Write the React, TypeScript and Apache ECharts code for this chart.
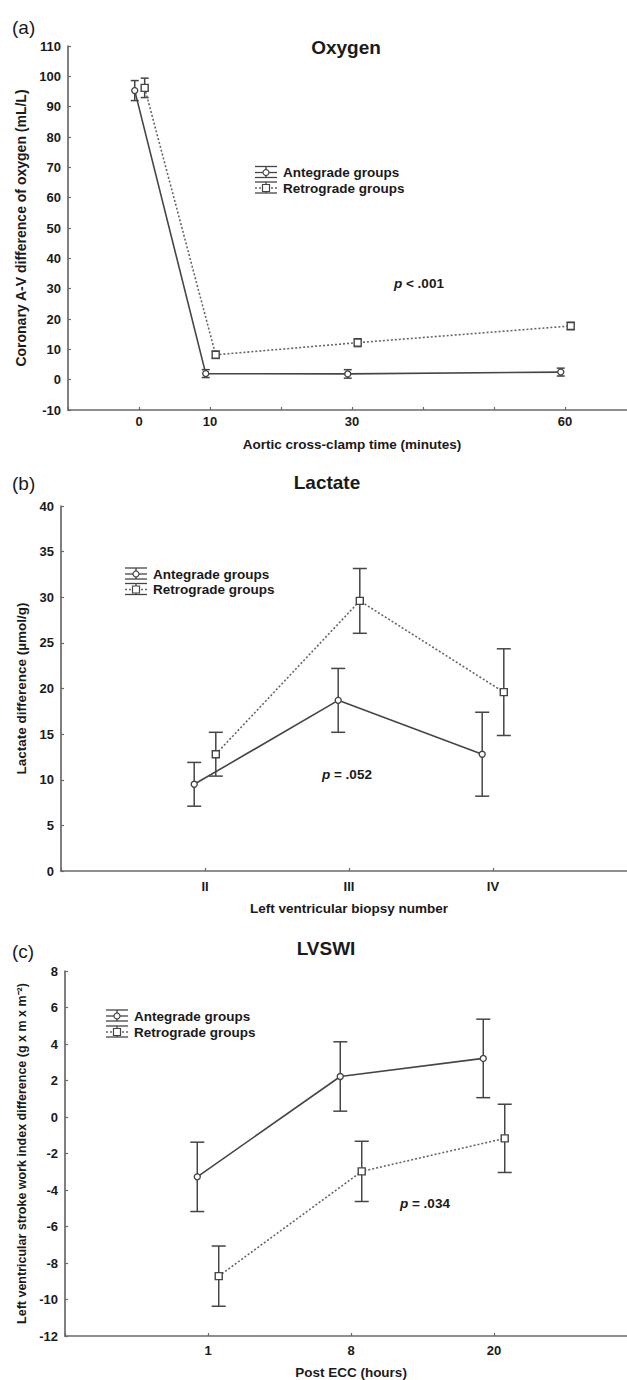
import React, { useEffect, useRef } from "react";
import * as echarts from "echarts";

// ---------- data ----------
const oxygenTimes = [0, 10, 30, 60];
const oxygenTickLabels = ["0", "10", "30", "60"];
const oxygenAntegrade = [95.3, 2.0, 1.9, 2.5];
const oxygenAntegradeErr = [3.3, 1.3, 1.4, 1.3];
const oxygenRetrograde = [96.2, 8.2, 12.2, 17.7];
const oxygenRetrogradeErr = [3.2, 1.2, 1.3, 1.2];

const lactateCategories = ["II", "III", "IV"];
const lactateAntegrade = [9.5, 18.7, 12.8];
const lactateAntegradeErr = [2.4, 3.5, 4.6];
const lactateRetrograde = [12.8, 29.6, 19.6];
const lactateRetrogradeErr = [2.4, 3.55, 4.75];

const lvswiCategories = ["1", "8", "20"];
const lvswiAntegrade = [-3.28, 2.22, 3.21];
const lvswiAntegradeErr = [1.9, 1.9, 2.15];
const lvswiRetrograde = [-8.72, -2.98, -1.17];
const lvswiRetrogradeErr = [1.65, 1.65, 1.87];

const seriesNames = ["Antegrade groups", "Retrograde groups"];

// ---------- styles ----------
const FONT = "'Liberation Sans', Arial, Helvetica, sans-serif";
const AXIS_COLOR = "#6a6a6a";
const LINE_COLOR = "#454545";
const DOT_COLOR = "#666666";
const TEXT_COLOR = "#1a1a1a";

const OXY_OFFSETS = [-0.6, 0.8];
const CAT_OFFSETS = [-0.075, 0.075];

function pts(xs: number[], ys: number[], errs: number[], off: number) {
  return xs.map((x, i) => [x + off, ys[i], errs[i]]);
}

function errorSeries(idx: number, data: number[][], cap: number, color: string) {
  return {
    type: "custom",
    xAxisIndex: idx,
    yAxisIndex: idx,
    z: 2,
    silent: true,
    encode: { x: 0, y: 1 },
    data,
    renderItem: (params: any, api: any) => {
      const x = api.value(0);
      const y = api.value(1);
      const e = api.value(2);
      const top = api.coord([x, y + e]);
      const bot = api.coord([x, y - e]);
      const st = { stroke: color, lineWidth: 1.5 };
      return {
        type: "group",
        children: [
          { type: "line", shape: { x1: top[0], y1: top[1], x2: bot[0], y2: bot[1] }, style: st },
          { type: "line", shape: { x1: top[0] - cap, y1: top[1], x2: top[0] + cap, y2: top[1] }, style: st },
          { type: "line", shape: { x1: bot[0] - cap, y1: bot[1], x2: bot[0] + cap, y2: bot[1] }, style: st },
        ],
      };
    },
  };
}

function meanSeries(idx: number, name: string, data: number[][], retro: boolean, size: number) {
  return {
    type: "line",
    name,
    xAxisIndex: idx,
    yAxisIndex: idx,
    z: 3,
    data: data.map((d) => [d[0], d[1]]),
    symbol: retro ? "rect" : "circle",
    symbolSize: size,
    showSymbol: true,
    itemStyle: { color: "#ffffff", borderColor: LINE_COLOR, borderWidth: 1.4 },
    lineStyle: retro
      ? { color: DOT_COLOR, width: 1.6, type: [2, 2] }
      : { color: LINE_COLOR, width: 1.6, type: "solid" },
  };
}

function legendGraphic(x0: number, x1: number, y0: number, gap: number, textX: number) {
  const els: any[] = [];
  const cx = (x0 + x1) / 2;
  [0, 1].forEach((k) => {
    const y = y0 + k * gap;
    const st = { stroke: LINE_COLOR, lineWidth: 1.3 };
    els.push({ type: "line", shape: { x1: x0, y1: y - 6, x2: x1, y2: y - 6 }, style: st });
    els.push({ type: "line", shape: { x1: x0, y1: y + 5, x2: x1, y2: y + 5 }, style: st });
    els.push({ type: "line", shape: { x1: cx, y1: y - 6, x2: cx, y2: y + 5 }, style: st });
    els.push({
      type: "line",
      shape: { x1: x0, y1: y, x2: x1, y2: y },
      style: k === 0 ? { stroke: LINE_COLOR, lineWidth: 1.3 } : { stroke: DOT_COLOR, lineWidth: 1.3, lineDash: [2, 2] },
    });
    if (k === 0) {
      els.push({ type: "circle", shape: { cx, cy: y, r: 3 }, style: { fill: "#fff", stroke: LINE_COLOR, lineWidth: 1.2 }, z: 10 });
    } else {
      els.push({ type: "rect", shape: { x: cx - 3.5, y: y - 3.5, width: 7, height: 7 }, style: { fill: "#fff", stroke: LINE_COLOR, lineWidth: 1.2 }, z: 10 });
    }
    els.push({
      type: "text",
      x: textX,
      y,
      style: { text: seriesNames[k], font: `bold 13.5px ${FONT}`, fill: TEXT_COLOR, align: "left", verticalAlign: "middle" },
      z: 10,
    });
  });
  return els;
}

function label(text: string, x: number, y: number, size: number, bold = true) {
  return {
    type: "text",
    x,
    y,
    style: {
      text,
      font: `${bold ? "bold " : ""}${size}px ${FONT}`,
      fill: TEXT_COLOR,
      align: bold ? "center" : "left",
      verticalAlign: "middle",
    },
  };
}

function pLabel(rest: string, x: number, y: number) {
  return {
    type: "text",
    x,
    y,
    style: {
      text: `{i|p}{n|${rest}}`,
      align: "left",
      verticalAlign: "middle",
      rich: {
        i: { font: `italic bold 13.5px ${FONT}`, fill: TEXT_COLOR },
        n: { font: `bold 13.5px ${FONT}`, fill: TEXT_COLOR },
      },
    },
  };
}

const axisLabelStyle = { color: TEXT_COLOR, fontFamily: FONT, fontWeight: "bold", fontSize: 13 };
const axisNameStyle = { color: TEXT_COLOR, fontFamily: FONT, fontWeight: "bold", fontSize: 13.5 };

function xAxisCfg(idx: number, min: number, max: number, interval: number, fmt: (v: number) => string, name: string, nameGap: number, margin: number) {
  return {
    type: "value",
    gridIndex: idx,
    min,
    max,
    interval,
    name,
    nameLocation: "middle",
    nameGap,
    nameTextStyle: axisNameStyle,
    axisLine: { show: true, onZero: false, lineStyle: { color: AXIS_COLOR, width: 1.7 } },
    axisTick: { show: true, inside: true, length: 3, lineStyle: { color: AXIS_COLOR, width: 1.2 } },
    axisLabel: { ...axisLabelStyle, margin, formatter: fmt, showMinLabel: true, showMaxLabel: true, hideOverlap: false },
    splitLine: { show: false },
  };
}

function yAxisCfg(idx: number, min: number, max: number, interval: number, name: string, nameGap: number, nameSize: number) {
  return {
    type: "value",
    gridIndex: idx,
    min,
    max,
    interval,
    name,
    nameLocation: "middle",
    nameGap,
    nameTextStyle: { ...axisNameStyle, fontSize: nameSize },
    axisLine: { show: true, onZero: false, lineStyle: { color: AXIS_COLOR, width: 1.7 } },
    axisTick: { show: true, inside: true, length: 3, lineStyle: { color: AXIS_COLOR, width: 1.2 } },
    axisLabel: { ...axisLabelStyle, margin: 7 },
    splitLine: { show: false },
  };
}

export default function App() {
  const ref = useRef<HTMLDivElement>(null);

  useEffect(() => {
    if (!ref.current) return;
    const chart = echarts.init(ref.current, undefined, { renderer: "svg" });

    const catPos = [1, 2, 3];
    const oxA = pts(oxygenTimes, oxygenAntegrade, oxygenAntegradeErr, OXY_OFFSETS[0]);
    const oxR = pts(oxygenTimes, oxygenRetrograde, oxygenRetrogradeErr, OXY_OFFSETS[1]);
    const laA = pts(catPos, lactateAntegrade, lactateAntegradeErr, CAT_OFFSETS[0]);
    const laR = pts(catPos, lactateRetrograde, lactateRetrogradeErr, CAT_OFFSETS[1]);
    const lvA = pts(catPos, lvswiAntegrade, lvswiAntegradeErr, CAT_OFFSETS[0]);
    const lvR = pts(catPos, lvswiRetrograde, lvswiRetrogradeErr, CAT_OFFSETS[1]);

    const oxyFmt = (v: number) => (oxygenTickLabels.includes(String(v)) ? String(v) : "");
    const catFmt = (cats: string[]) => (v: number) => (v >= 1 && v <= cats.length ? cats[v - 1] : "");

    chart.setOption({
      animation: false,
      backgroundColor: "#ffffff",
      grid: [
        { left: 68, top: 46, width: 568, height: 364 },
        { left: 61, top: 506, width: 576, height: 365 },
        { left: 65, top: 971, width: 573, height: 366 },
      ],
      xAxis: [
        xAxisCfg(0, -10, 70, 10, oxyFmt, "Aortic cross-clamp time (minutes)", 27, 5),
        xAxisCfg(1, 0, 4, 1, catFmt(lactateCategories), "Left ventricular biopsy number", 30, 9),
        xAxisCfg(2, 0, 4, 1, catFmt(lvswiCategories), "Post ECC (hours)", 29, 8),
      ],
      yAxis: [
        yAxisCfg(0, -10, 110, 10, "Coronary A-V difference of oxygen (mL/L)", 38, 14),
        yAxisCfg(1, 0, 40, 5, "Lactate difference (\u00b5mol/g)", 30, 13.5),
        yAxisCfg(2, -12, 8, 2, "Left ventricular stroke work index difference (g x m x m\u207b\u00b2)", 35, 12.5),
      ],
      series: [
        errorSeries(0, oxA, 4, LINE_COLOR),
        errorSeries(0, oxR, 4, LINE_COLOR),
        meanSeries(0, seriesNames[0], oxA, false, 6),
        meanSeries(0, seriesNames[1], oxR, true, 7),
        errorSeries(1, laA, 7, LINE_COLOR),
        errorSeries(1, laR, 7, LINE_COLOR),
        meanSeries(1, seriesNames[0], laA, false, 6),
        meanSeries(1, seriesNames[1], laR, true, 7),
        errorSeries(2, lvA, 7, LINE_COLOR),
        errorSeries(2, lvR, 7, LINE_COLOR),
        meanSeries(2, seriesNames[0], lvA, false, 6),
        meanSeries(2, seriesNames[1], lvR, true, 7),
      ],
      graphic: [
        label("(a)", 12, 27, 19, false),
        label("Oxygen", 346, 47, 19),
        pLabel(" < .001", 394, 283),
        ...legendGraphic(255, 277, 172.5, 15.5, 283),
        label("(b)", 12, 483, 19, false),
        label("Lactate", 327, 482, 19),
        pLabel(" = .052", 322, 774),
        ...legendGraphic(125, 147, 574, 15.5, 153),
        label("(c)", 12, 951, 19, false),
        label("LVSWI", 326, 948, 19),
        pLabel(" = .034", 400, 1203),
        ...legendGraphic(106, 128, 1016, 16, 134),
      ],
    });

    return () => chart.dispose();
  }, []);

  return (
    <div style={{ position: "fixed", left: 0, top: 0, width: 627, height: 1380, overflow: "hidden", background: "#fff" }}>
      <div ref={ref} style={{ width: 640, height: 1380 }} />
    </div>
  );
}
